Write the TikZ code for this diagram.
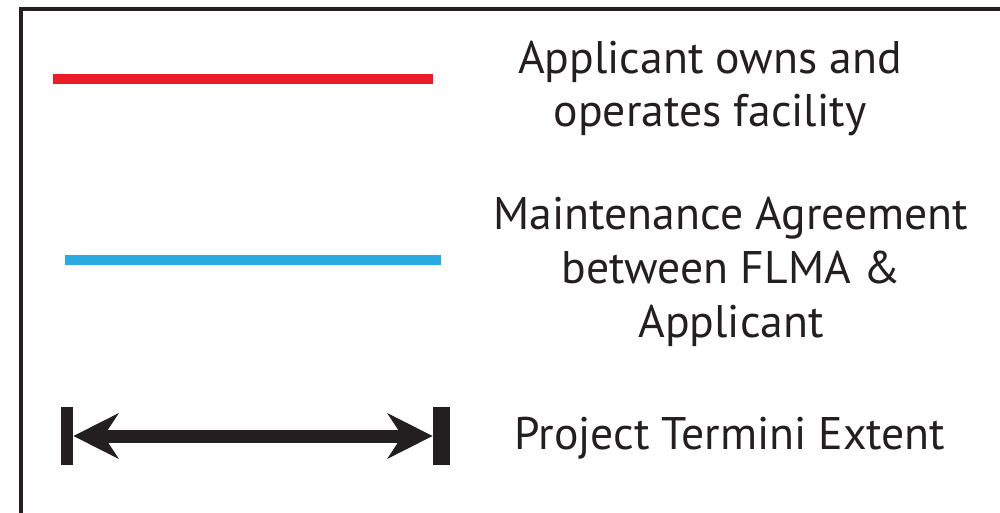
\documentclass[tikz,border=0pt]{standalone}
\usepackage{fontspec}
\setmainfont{PT Sans}
\usetikzlibrary{arrows.meta}
\definecolor{ownred}{HTML}{ED1C24}
\definecolor{agreeblue}{HTML}{29ABE2}
\definecolor{inkblack}{HTML}{231F20}
\tikzset{
  legendtext/.style={text=inkblack, align=center, font=\fontsize{26}{30.7}\selectfont, inner sep=0pt, anchor=base},
  legendline/.style={line width=0.2cm},
  endbar/.style={fill=inkblack, inner sep=0pt, minimum height=1.18cm},
}
\begin{document}
\begin{tikzpicture}[x=0.02cm,y=-0.02cm]
  \useasboundingbox (0,0) rectangle (1000,513);
  \draw[inkblack, line width=0.08cm] (21,530) -- (21,9) -- (1020,9);
  % owned by applicant
  \coordinate (ownsL) at (53,79);
  \coordinate (ownsR) at (433,79);
  \draw[legendline, ownred] (ownsL) -- (ownsR);
  \node[legendtext] (owns) at (710,127) {Applicant owns and\\operates facility};
  % maintenance agreement
  \coordinate (agreeL) at (65,260);
  \coordinate (agreeR) at (441,260);
  \draw[legendline, agreeblue] (agreeL) -- (agreeR);
  \node[legendtext] (agree) at (731,337) {Maintenance Agreement\\between FLMA \&\\Applicant};
  % termini
  \node[endbar, minimum width=0.24cm] (leftbar) at (67,436) {};
  \node[endbar, minimum width=0.34cm] (rightbar) at (441.5,436) {};
  \draw[inkblack, line width=0.26cm, {Stealth[length=0.9cm,width=0.9cm]}-{Stealth[length=0.9cm,width=0.9cm]}] (leftbar.east) -- (rightbar.west);
  \node[legendtext] (termini) at (730,449) {Project Termini Extent};
\end{tikzpicture}
\end{document}
